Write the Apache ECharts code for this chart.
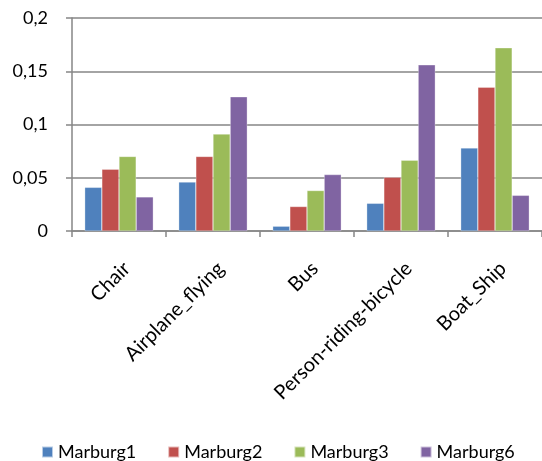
<!DOCTYPE html>
<html>
<head>
<meta charset="utf-8">
<script src="https://cdn.jsdelivr.net/npm/echarts@6/dist/echarts.min.js"></script>
<style>
  html, body { margin: 0; padding: 0; background: #ffffff; }
  #chart { width: 542px; height: 461px; }
</style>
</head>
<body>
<div id="chart"></div>
<script>
// Categories along the x axis
const categories = ['Chair', 'Airplane_flying', 'Bus', 'Person-riding-bicycle', 'Boat_Ship'];

// Series values per category
const marburg1 = [0.041, 0.046, 0.0045, 0.026, 0.078];
const marburg2 = [0.058, 0.070, 0.023, 0.0505, 0.135];
const marburg3 = [0.070, 0.091, 0.038, 0.0665, 0.172];
const marburg6 = [0.032, 0.126, 0.053, 0.156, 0.0335];

const seriesNames = ['Marburg1', 'Marburg2', 'Marburg3', 'Marburg6'];
const seriesData = [marburg1, marburg2, marburg3, marburg6];
const seriesColors = ['#4F81BD', '#C0504D', '#9BBB59', '#8064A2'];

const FONT = 'Lato';

const chart = echarts.init(document.getElementById('chart'), null, { renderer: 'canvas' });

chart.setOption({
  animation: false,
  backgroundColor: '#ffffff',
  textStyle: { fontFamily: FONT },
  grid: { left: 72, right: -6, top: 18, bottom: 230 },
  legend: {
    top: 438,
    left: 36,
    icon: 'rect',
    itemWidth: 11,
    itemHeight: 11,
    itemGap: 31,
    textStyle: { fontFamily: FONT, fontSize: 18, lineHeight: 18, color: '#000000' },
    data: seriesNames
  },
  xAxis: {
    type: 'category',
    data: categories,
    axisLine: { lineStyle: { color: '#868686', width: 1.5 } },
    axisTick: { show: true, length: 6, lineStyle: { color: '#868686', width: 1.5 } },
    axisLabel: {
      rotate: 45,
      interval: 0,
      margin: 42,
      padding: [0, -11, 0, 0],
      fontFamily: FONT,
      fontSize: 20,
      color: '#000000'
    }
  },
  yAxis: {
    type: 'value',
    min: 0,
    max: 0.2,
    interval: 0.05,
    axisLine: { show: true, lineStyle: { color: '#868686', width: 1.5 } },
    axisTick: { show: true, length: 6, lineStyle: { color: '#868686', width: 1.5 } },
    splitLine: { lineStyle: { color: '#868686', width: 1.5 } },
    axisLabel: {
      margin: 24,
      fontFamily: FONT,
      fontSize: 18,
      color: '#000000',
      formatter: function (v) { return String(Math.round(v * 100) / 100).replace('.', ','); }
    }
  },
  series: seriesData.map(function (d, i) {
    return {
      name: seriesNames[i],
      type: 'bar',
      data: d,
      barGap: '0%',
      barCategoryGap: '27%',
      itemStyle: { color: seriesColors[i], borderColor: 'rgba(255,255,255,0.6)', borderWidth: 0.5 }
    };
  })
});
</script>
</body>
</html>
